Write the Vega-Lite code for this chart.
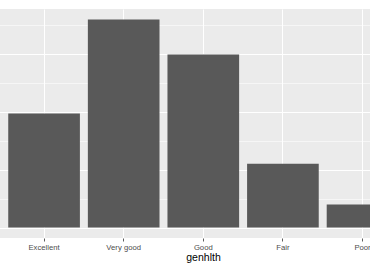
{
  "$schema": "https://vega.github.io/schema/vega-lite/v6.json",
  "width": 370,
  "height": 229,
  "autosize": {"type": "none"},
  "padding": {"left": 0, "top": 9, "right": 0, "bottom": 27},
  "background": "white",
  "view": {"fill": "#EBEBEB", "stroke": null},
  "data": {
    "values": [
      {"genhlth": "Excellent", "count": 1972},
      {"genhlth": "Very good", "count": 3601},
      {"genhlth": "Good", "count": 2993},
      {"genhlth": "Fair", "count": 1104},
      {"genhlth": "Poor", "count": 399}
    ]
  },
  "mark": {"type": "bar", "fill": "#595959", "clip": true},
  "encoding": {
    "x": {
      "field": "genhlth",
      "type": "nominal",
      "sort": ["Excellent", "Very good", "Good", "Fair", "Poor"],
      "scale": {"range": [-3.7, 410.3], "paddingInner": 0.1, "paddingOuter": 0.15},
      "axis": {
        "title": "genhlth",
        "titleFont": "Liberation Sans",
        "titleFontSize": 10.5,
        "titleFontWeight": "normal",
        "titleColor": "#000000",
        "titlePadding": 2,
        "titleX": 203,
        "labelFont": "Liberation Sans",
        "labelFontSize": 7.7,
        "labelColor": "#4D4D4D",
        "labelAngle": 0,
        "labelPadding": 2,
        "tickColor": "#333333",
        "tickSize": 3,
        "tickWidth": 0.8,
        "domain": false,
        "offset": 0,
        "grid": true,
        "gridColor": "#FFFFFF",
        "gridWidth": 1.1,
        "bandPosition": 0.5
      }
    },
    "y": {
      "field": "count",
      "type": "quantitative",
      "scale": {"domain": [-180, 3781], "nice": false, "zero": false},
      "axis": {
        "title": null,
        "labels": false,
        "ticks": false,
        "domain": false,
        "values": [0, 500, 1000, 1500, 2000, 2500, 3000, 3500],
        "grid": true,
        "gridColor": "#FFFFFF",
        "gridWidth": {"condition": {"test": "datum.value % 1000 === 0", "value": 1.1}, "value": 0.55}
      }
    }
  }
}
